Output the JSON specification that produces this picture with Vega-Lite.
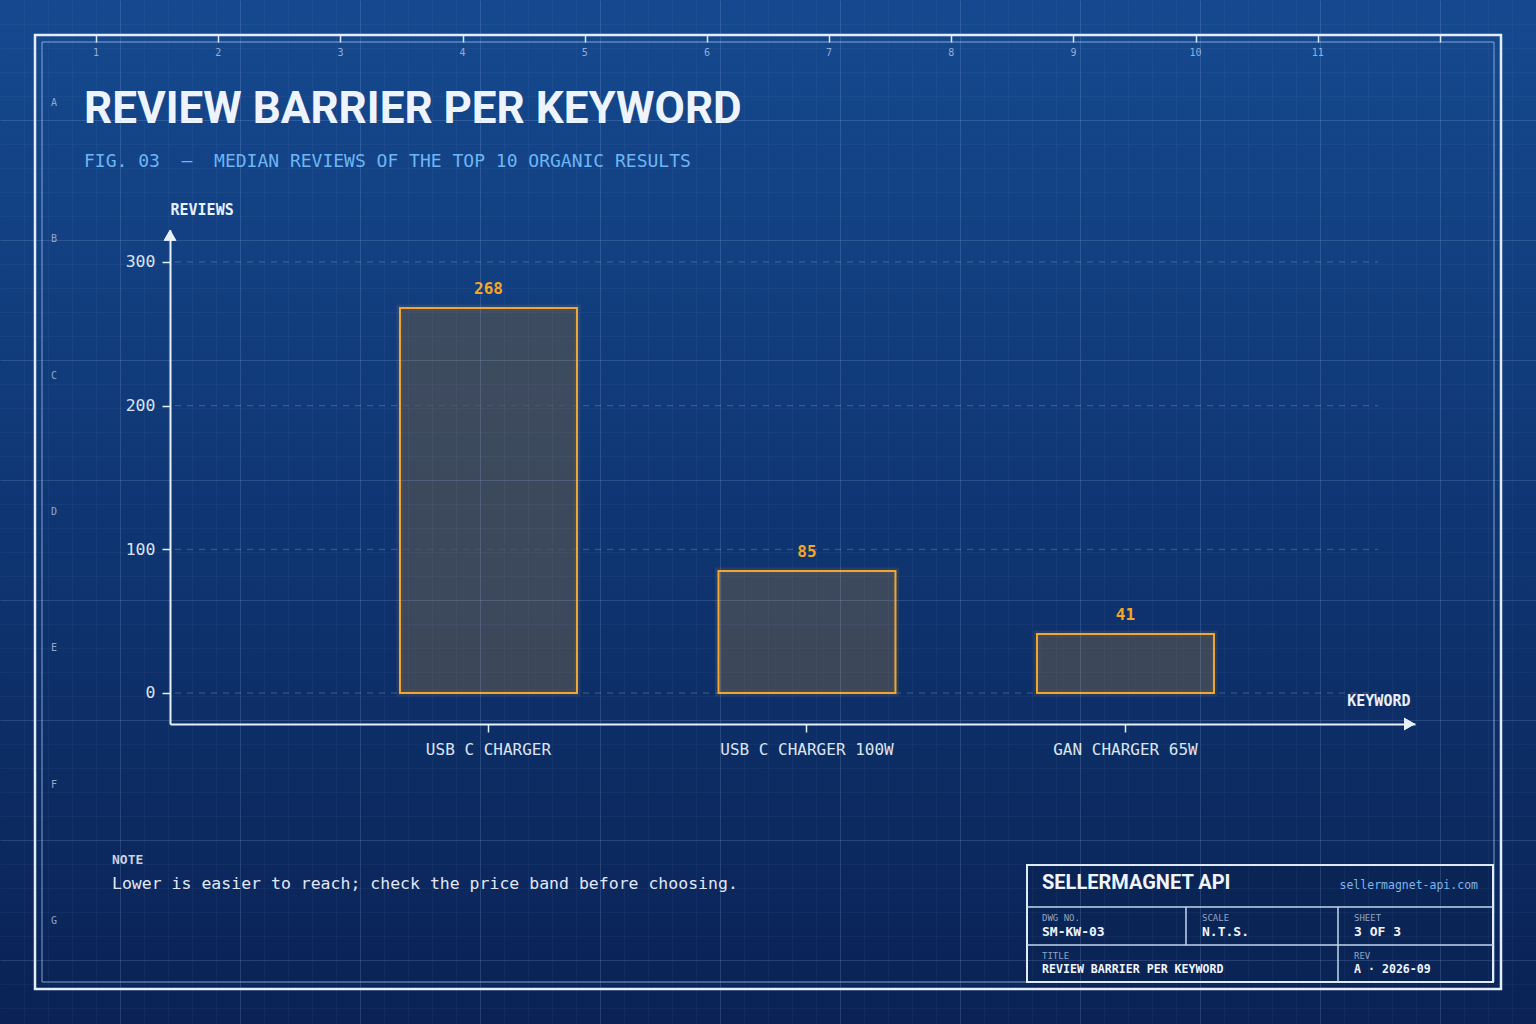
{
  "$schema": "https://vega.github.io/schema/vega-lite/v6.json",
  "description": "Median reviews of the top 10 organic results per keyword, drawn on a blueprint sheet",
  "width": 1536,
  "height": 1024,
  "autosize": "none",
  "padding": 0,
  "background": "#0b2457",
  "title": {
    "text": "REVIEW BARRIER PER KEYWORD",
    "subtitle": "FIG. 03\u00a0\u00a0—\u00a0\u00a0MEDIAN REVIEWS OF THE TOP 10 ORGANIC RESULTS",
    "orient": "top",
    "anchor": "start",
    "frame": "group",
    "dx": 84,
    "offset": -174,
    "font": "Roboto",
    "fontSize": 44,
    "fontWeight": "bold",
    "color": "#eef4fc",
    "subtitleFont": "DejaVu Sans Mono",
    "subtitleFontSize": 18,
    "subtitleColor": "#6cb6f5",
    "subtitlePadding": 21
  },
  "data": {"values": [{}]},
  "layer": [
    {
      "mark": {
        "type": "rect", "x": 0, "x2": 1536, "y": 0, "y2": 1024,
        "color": {
          "gradient": "linear", "x1": 0, "y1": 0, "x2": 0, "y2": 1,
          "stops": [
            {"offset": 0, "color": "#15498f"},
            {"offset": 0.5, "color": "#0f3673"},
            {"offset": 1, "color": "#0a2255"}
          ]
        }
      },
      "encoding": {}
    },
    {
      "description": "minor sheet grid, every 24px",
      "mark": {"type": "point", "opacity": 0},
      "encoding": {
        "x": {
          "datum": 0,
          "type": "quantitative",
          "scale": {"domain": [0, 64], "nice": false, "zero": false},
          "axis": {
            "orient": "top",
            "zindex": 1,
            "values": [1,2,3,4,5,6,7,8,9,10,11,12,13,14,15,16,17,18,19,20,21,22,23,24,25,26,27,28,29,30,31,32,33,34,35,36,37,38,39,40,41,42,43,44,45,46,47,48,49,50,51,52,53,54,55,56,57,58,59,60,61,62,63],
            "grid": true,
            "gridColor": "#b0d0ff",
            "gridOpacity": 0.045,
            "domain": false,
            "ticks": false,
            "labels": false,
            "title": null
          }
        },
        "y": {
          "datum": 0,
          "type": "quantitative",
          "scale": {"domain": [0, 42.6667], "reverse": true, "nice": false, "zero": false},
          "axis": {
            "orient": "right",
            "zindex": 1,
            "values": [1,2,3,4,5,6,7,8,9,10,11,12,13,14,15,16,17,18,19,20,21,22,23,24,25,26,27,28,29,30,31,32,33,34,35,36,37,38,39,40,41,42],
            "grid": true,
            "gridColor": "#b0d0ff",
            "gridOpacity": 0.045,
            "domain": false,
            "ticks": false,
            "labels": false,
            "title": null
          }
        }
      }
    },
    {
      "description": "major sheet grid, every 120px",
      "mark": {"type": "point", "opacity": 0},
      "encoding": {
        "x": {
          "datum": 0,
          "type": "quantitative",
          "scale": {"domain": [0, 12.8], "nice": false, "zero": false},
          "axis": {
            "orient": "top",
            "zindex": 1,
            "values": [1,2,3,4,5,6,7,8,9,10,11,12],
            "grid": true,
            "gridColor": "#b0d0ff",
            "gridOpacity": 0.13,
            "domain": false,
            "ticks": false,
            "labels": false,
            "title": null
          }
        },
        "y": {
          "datum": 0,
          "type": "quantitative",
          "scale": {"domain": [0, 8.5333], "reverse": true, "nice": false, "zero": false},
          "axis": {
            "orient": "right",
            "zindex": 1,
            "values": [1,2,3,4,5,6,7,8],
            "grid": true,
            "gridColor": "#b0d0ff",
            "gridOpacity": 0.13,
            "domain": false,
            "ticks": false,
            "labels": false,
            "title": null
          }
        }
      }
    },
    {
      "mark": {"type": "rect", "x": 35, "x2": 1501, "y": 35, "y2": 989, "fillOpacity": 0, "stroke": "#e4eefa", "strokeWidth": 2.5},
      "encoding": {}
    },
    {
      "mark": {"type": "rect", "x": 42, "x2": 1494, "y": 42, "y2": 982, "fillOpacity": 0, "stroke": "#9fc0e8", "strokeWidth": 1, "strokeOpacity": 0.8},
      "encoding": {}
    },
    {
      "description": "zone numbers along the top border",
      "data": {"values": [
        {"zone": "1"}, {"zone": "2"}, {"zone": "3"}, {"zone": "4"}, {"zone": "5"}, {"zone": "6"},
        {"zone": "7"}, {"zone": "8"}, {"zone": "9"}, {"zone": "10"}, {"zone": "11"}
      ]},
      "mark": {"type": "text", "y": 53, "fontSize": 10, "color": "#8fb0d8", "baseline": "middle"},
      "encoding": {
        "x": {
          "field": "zone",
          "type": "ordinal",
          "sort": null,
          "scale": {"domain": ["1","2","3","4","5","6","7","8","9","10","11","12"], "range": [35, 1501], "paddingInner": 0, "paddingOuter": 0},
          "axis": {
            "orient": "top",
            "offset": -42,
            "zindex": 1,
            "bandPosition": 0,
            "domain": false,
            "labels": false,
            "ticks": true,
            "tickSize": 7,
            "tickColor": "#dbe8f7",
            "tickWidth": 1.5,
            "grid": false,
            "title": null
          }
        },
        "text": {"field": "zone"}
      }
    },
    {
      "description": "zone letters along the left border",
      "data": {"values": [
        {"row": "A"}, {"row": "B"}, {"row": "C"}, {"row": "D"}, {"row": "E"}, {"row": "F"}, {"row": "G"}
      ]},
      "mark": {"type": "text", "x": 54, "fontSize": 10, "color": "#8fa9cf", "baseline": "middle"},
      "encoding": {
        "y": {
          "field": "row",
          "type": "ordinal",
          "sort": null,
          "scale": {"domain": ["A","B","C","D","E","F","G"], "range": [35, 989], "paddingInner": 0, "paddingOuter": 0},
          "axis": null
        },
        "text": {"field": "row"}
      }
    },
    {
      "data": {"values": [
        {"keyword": "USB C CHARGER", "reviews": 268},
        {"keyword": "USB C CHARGER 100W", "reviews": 85},
        {"keyword": "GAN CHARGER 65W", "reviews": 41}
      ]},
      "encoding": {
        "x": {
          "field": "keyword",
          "type": "nominal",
          "sort": null,
          "scale": {"range": [170, 1415], "paddingInner": 0.4443, "paddingOuter": 0.6766, "align": 0.5336},
          "axis": {
            "orient": "bottom",
            "offset": -300,
            "zindex": 1,
            "title": "KEYWORD",
            "titleX": 1410,
            "titleY": -24,
            "titleAlign": "right",
            "titleBaseline": "middle",
            "titleColor": "#e8f0fa",
            "titleFontSize": 15,
            "titleFontWeight": "bold",
            "domainColor": "#e8f0fa",
            "domainWidth": 2,
            "tickColor": "#e8f0fa",
            "tickWidth": 1.5,
            "tickSize": 8,
            "labelColor": "#dbe5f2",
            "labelFontSize": 16,
            "labelPadding": 9,
            "labelAngle": 0,
            "labelLimit": 400,
            "grid": false
          }
        },
        "y": {
          "field": "reviews",
          "type": "quantitative",
          "scale": {"domain": [-21.58, 322.27], "range": [724, 230], "nice": false, "zero": false},
          "axis": {
            "orient": "left",
            "offset": -170,
            "zindex": 1,
            "values": [0, 100, 200, 300],
            "title": "REVIEWS",
            "titleAngle": 0,
            "titleX": 0,
            "titleY": 209,
            "titleAlign": "left",
            "titleBaseline": "middle",
            "titleColor": "#e8f0fa",
            "titleFontSize": 15,
            "titleFontWeight": "bold",
            "domainColor": "#e8f0fa",
            "domainWidth": 2,
            "tickColor": "#e8f0fa",
            "tickWidth": 1.5,
            "tickSize": 8,
            "labelColor": "#dbe5f2",
            "labelFontSize": 16.5,
            "labelPadding": 7,
            "grid": false
          }
        }
      },
      "layer": [
        {
          "data": {"values": [{"reviews": 0}, {"reviews": 100}, {"reviews": 200}, {"reviews": 300}]},
          "mark": {"type": "rule", "strokeDash": [6, 6], "color": "#a9c6ea", "opacity": 0.3, "strokeWidth": 1},
          "encoding": {"x": {"value": 175}, "x2": {"value": 1378}}
        },
        {
          "mark": {"type": "bar", "fillOpacity": 0, "stroke": "#f5a623", "strokeWidth": 7, "strokeOpacity": 0.1},
          "encoding": {"y2": {"datum": 0}}
        },
        {
          "mark": {"type": "bar", "fill": "#535353", "fillOpacity": 0.68, "stroke": "#f2a630", "strokeWidth": 2},
          "encoding": {"y2": {"datum": 0}}
        },
        {
          "mark": {"type": "text", "dy": -19, "fontSize": 16, "fontWeight": "bold", "color": "#f5a623"},
          "encoding": {"text": {"field": "reviews", "type": "quantitative"}}
        },
        {
          "mark": {"type": "point", "shape": "triangle-up", "size": 160, "filled": true, "color": "#e8f0fa", "opacity": 1},
          "encoding": {"x": {"value": 170}, "y": {"datum": 318.65}}
        },
        {
          "mark": {"type": "point", "shape": "triangle-right", "size": 160, "filled": true, "color": "#e8f0fa", "opacity": 1},
          "encoding": {"x": {"value": 1409.5}, "y": {"datum": -21.58}}
        }
      ]
    },
    {
      "mark": {"type": "text", "text": "NOTE", "x": 112, "y": 860, "align": "left", "fontSize": 13, "fontWeight": "bold", "color": "#c6d3e4"},
      "encoding": {}
    },
    {
      "mark": {"type": "text", "text": "Lower is easier to reach; check the price band before choosing.", "x": 112, "y": 884, "align": "left", "fontSize": 16.5, "color": "#e1e9f4"},
      "encoding": {}
    },
    {
      "mark": {"type": "rect", "x": 1027, "x2": 1493, "y": 865, "y2": 982, "fill": "#0a2456", "stroke": "#e0ebf7", "strokeWidth": 2},
      "encoding": {}
    },
    {
      "mark": {"type": "rect", "x": 1027, "x2": 1493, "y": 906.25, "y2": 907.75, "fill": "#c3d6ee"},
      "encoding": {}
    },
    {
      "mark": {"type": "rect", "x": 1027, "x2": 1493, "y": 944.25, "y2": 945.75, "fill": "#c3d6ee"},
      "encoding": {}
    },
    {
      "mark": {"type": "rect", "x": 1185.25, "x2": 1186.75, "y": 907, "y2": 945, "fill": "#c3d6ee"},
      "encoding": {}
    },
    {
      "mark": {"type": "rect", "x": 1337.25, "x2": 1338.75, "y": 907, "y2": 982, "fill": "#c3d6ee"},
      "encoding": {}
    },
    {
      "mark": {"type": "text", "text": "SELLERMAGNET API", "x": 1042, "y": 883, "align": "left", "font": "Roboto", "fontSize": 20, "fontWeight": "bold", "color": "#f0f5fc"},
      "encoding": {}
    },
    {
      "mark": {"type": "text", "text": "sellermagnet-api.com", "x": 1478, "y": 886, "align": "right", "fontSize": 11.5, "color": "#7db6ec"},
      "encoding": {}
    },
    {
      "mark": {"type": "text", "text": "DWG NO.", "x": 1042, "y": 918, "align": "left", "fontSize": 9, "color": "#8ea6c6"},
      "encoding": {}
    },
    {
      "mark": {"type": "text", "text": "SM-KW-03", "x": 1042, "y": 932, "align": "left", "fontSize": 13, "fontWeight": "bold", "color": "#f0f5fc"},
      "encoding": {}
    },
    {
      "mark": {"type": "text", "text": "SCALE", "x": 1202, "y": 918, "align": "left", "fontSize": 9, "color": "#8ea6c6"},
      "encoding": {}
    },
    {
      "mark": {"type": "text", "text": "N.T.S.", "x": 1202, "y": 932, "align": "left", "fontSize": 13, "fontWeight": "bold", "color": "#f0f5fc"},
      "encoding": {}
    },
    {
      "mark": {"type": "text", "text": "SHEET", "x": 1354, "y": 918, "align": "left", "fontSize": 9, "color": "#8ea6c6"},
      "encoding": {}
    },
    {
      "mark": {"type": "text", "text": "3 OF 3", "x": 1354, "y": 932, "align": "left", "fontSize": 13, "fontWeight": "bold", "color": "#f0f5fc"},
      "encoding": {}
    },
    {
      "mark": {"type": "text", "text": "TITLE", "x": 1042, "y": 956, "align": "left", "fontSize": 9, "color": "#8ea6c6"},
      "encoding": {}
    },
    {
      "mark": {"type": "text", "text": "REVIEW BARRIER PER KEYWORD", "x": 1042, "y": 970, "align": "left", "fontSize": 11.6, "fontWeight": "bold", "color": "#f0f5fc"},
      "encoding": {}
    },
    {
      "mark": {"type": "text", "text": "REV", "x": 1354, "y": 956, "align": "left", "fontSize": 9, "color": "#8ea6c6"},
      "encoding": {}
    },
    {
      "mark": {"type": "text", "text": "A · 2026-09", "x": 1354, "y": 970, "align": "left", "fontSize": 11.6, "fontWeight": "bold", "color": "#f0f5fc"},
      "encoding": {}
    }
  ],
  "resolve": {"scale": {"x": "independent", "y": "independent"}},
  "config": {
    "view": {"stroke": null},
    "text": {"font": "DejaVu Sans Mono"},
    "axis": {"labelFont": "DejaVu Sans Mono", "titleFont": "DejaVu Sans Mono"}
  }
}
